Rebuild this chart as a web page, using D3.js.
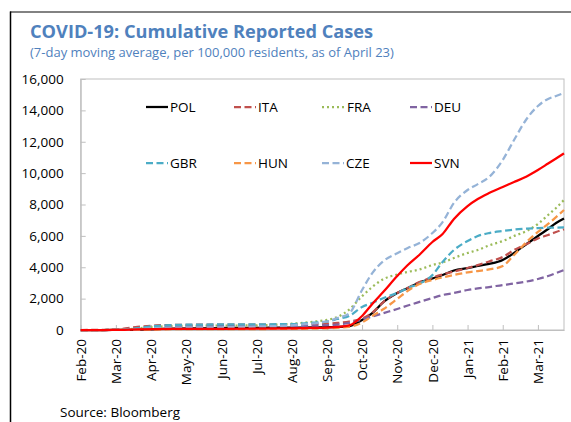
<!DOCTYPE html>
<html>
<head>
<meta charset="utf-8">
<script src="https://cdn.jsdelivr.net/npm/d3@7"></script>
<style>
  html, body { margin: 0; padding: 0; background: #fff; }
  svg { display: block; font-family: "Open Sans", "Noto Sans", sans-serif; }
</style>
</head>
<body>
<svg id="chart" width="571" height="422"></svg>
<script>
// ---------- data ----------
const monthLabels = ["Feb-20","Mar-20","Apr-20","May-20","Jun-20","Jul-20","Aug-20",
                     "Sep-20","Oct-20","Nov-20","Dec-20","Jan-21","Feb-21","Mar-21"];
const yTicks = [0, 2000, 4000, 6000, 8000, 10000, 12000, 14000, 16000];

const dates = ["2020-02-01","2020-02-20","2020-03-05","2020-03-20","2020-04-05","2020-04-20",
               "2020-05-10","2020-06-01","2020-07-01","2020-08-01","2020-08-20",
               "2020-09-01","2020-09-10","2020-09-20","2020-10-01","2020-10-10","2020-10-20",
               "2020-11-01","2020-11-10","2020-11-20","2020-12-01","2020-12-10","2020-12-20",
               "2021-01-01","2021-01-10","2021-01-20","2021-02-01","2021-02-10","2021-02-20",
               "2021-03-01","2021-03-10","2021-03-17","2021-03-24"];

const POL = [0,0,2,20,60,90,110,125,140,150,170, 180,200,250,640,1080,1790,2360,2680,3030,3280,3510,3790,3950,4080,4210,4460,4910,5480,5990,6440,6820,7110];
const ITA = [0,5,60,200,290,320,335,340,345,350,380, 400,450,540,720,1100,1800,2360,2680,3060,3350,3540,3730,3950,4140,4370,4650,5100,5480,5830,6060,6250,6420];
const FRA = [0,0,15,100,200,250,270,280,300,400,530, 640,830,1300,2150,2740,3250,3540,3700,3860,4140,4300,4590,4910,5100,5390,5670,5990,6310,6760,7330,7780,8290];
const DEU = [0,0,10,80,180,220,235,240,245,260,280, 300,340,450,670,860,1080,1340,1560,1790,2040,2230,2360,2550,2650,2740,2870,2960,3090,3250,3440,3630,3825];
const GBR = [0,0,20,120,260,320,345,355,360,380,470, 540,700,890,1470,1720,2040,2360,2680,2960,3500,4340,5100,5670,5990,6180,6310,6400,6460,6500,6520,6530,6540];
const HUN = [0,0,1,10,30,50,55,58,62,70,90, 110,140,200,480,890,1340,1980,2490,2930,3190,3350,3510,3670,3760,3860,4080,4780,5610,6250,6760,7200,7650];
const CZE = [0,0,5,50,120,150,165,175,220,300,420, 540,765,1050,2550,3630,4400,4900,5230,5550,6180,6880,8100,8925,9300,9750,10840,12110,13450,14280,14730,14920,15110];
const SVN = [0,0,5,40,60,70,75,78,90,110,130, 150,200,290,890,1660,2450,3440,4140,4800,5610,6120,7080,7900,8350,8730,9120,9430,9790,10200,10610,10930,11260];

const seriesNames = ["POL","ITA","FRA","DEU","GBR","HUN","CZE","SVN"];
const seriesValues = [POL, ITA, FRA, DEU, GBR, HUN, CZE, SVN];
const seriesColors = ["#000000","#c0504d","#9bbb59","#8064a2","#4bacc6","#f79646","#95b3d7","#ff0000"];
const seriesDash = [null,"7,3.5","2,3","7,3.5","7,3.5","7,3.5","7,3.5",null];

// ---------- helpers ----------
function monthIndex(s) {
  const [y, m, d] = s.split("-").map(Number);
  const dim = new Date(y, m, 0).getDate();
  return (y - 2020) * 12 + (m - 2) + (d - 1) / dim;
}

// ---------- layout ----------
const svg = d3.select("#chart");
const L = 80.7, R = 564, T = 79, B = 330;
const x = d3.scaleLinear().domain([0, monthIndex(dates[dates.length - 1])]).range([L, R]);
const y = d3.scaleLinear().domain([0, 16000]).range([B, T]);

// frame
svg.append("line").attr("x1", 10).attr("x2", 571).attr("y1", 12).attr("y2", 12)
  .attr("stroke", "#595959").attr("stroke-width", 1.5);
svg.append("line").attr("x1", 10.5).attr("x2", 10.5).attr("y1", 11.5).attr("y2", 422)
  .attr("stroke", "#000").attr("stroke-width", 1.5);

// titles
svg.append("text").attr("x", 30).attr("y", 37.5)
  .attr("font-size", 18.2).attr("font-weight", 700).attr("fill", "#4f81bd")
  .text("COVID-19: Cumulative Reported Cases");
svg.append("text").attr("x", 30).attr("y", 56.5)
  .attr("font-size", 13).attr("fill", "#4f81bd")
  .text("(7-day moving average, per 100,000 residents, as of April 23)");

// plot border
svg.append("rect").attr("x", L).attr("y", T).attr("width", R - L).attr("height", B - T)
  .attr("fill", "none").attr("stroke", "#bfbfbf").attr("stroke-width", 1);

// y axis
const yAxis = svg.append("g").attr("transform", `translate(${L},0)`)
  .call(d3.axisLeft(y).tickValues(yTicks).tickFormat(d3.format(",")).tickSizeInner(-5).tickSizeOuter(0).tickPadding(17));
yAxis.select(".domain").attr("stroke", "#bfbfbf");
yAxis.selectAll(".tick line").attr("stroke", "#bfbfbf");
yAxis.selectAll(".tick text").attr("font-size", 13.5).attr("fill", "#000")
  .attr("font-family", "'Open Sans', sans-serif");

// x axis
const xAxis = svg.append("g").attr("transform", `translate(0,${B})`)
  .call(d3.axisBottom(x).tickValues(d3.range(monthLabels.length)).tickFormat(i => monthLabels[i])
    .tickSizeInner(-5).tickSizeOuter(0));
xAxis.select(".domain").attr("stroke", "#bfbfbf");
xAxis.selectAll(".tick line").attr("stroke", "#bfbfbf");
xAxis.selectAll(".tick text")
  .attr("font-size", 13.5).attr("fill", "#000").attr("font-family", "'Open Sans', sans-serif")
  .attr("text-anchor", "end").attr("transform", "rotate(-90)")
  .attr("x", -9).attr("y", 0).attr("dy", "0.35em");

// lines
const line = d3.line().curve(d3.curveMonotoneX)
  .x((d, i) => x(monthIndex(dates[i]))).y(d => y(d));
seriesNames.forEach((name, k) => {
  svg.append("path").datum(seriesValues[k])
    .attr("d", line).attr("fill", "none")
    .attr("stroke", seriesColors[k]).attr("stroke-width", 2.25)
    .attr("stroke-dasharray", seriesDash[k])
    .attr("stroke-linejoin", "round");
});

// legend
const legX = [146, 234, 322, 410];
const legY = [107, 163];
seriesNames.forEach((name, k) => {
  const cx = legX[k % 4], cy = legY[Math.floor(k / 4)];
  const g = svg.append("g").attr("transform", `translate(${cx},${cy})`);
  g.append("line").attr("x1", 0).attr("x2", 22).attr("y1", 0).attr("y2", 0)
    .attr("stroke", seriesColors[k]).attr("stroke-width", 2.25)
    .attr("stroke-dasharray", seriesDash[k]);
  g.append("text").attr("x", k === 2 ? 25 : 24).attr("y", 0).attr("dy", "0.35em")
    .attr("font-size", 13.5).attr("fill", "#000").text(name);
});

// source
svg.append("text").attr("x", 60).attr("y", 417)
  .attr("font-size", 13.5).attr("fill", "#000").text("Source: Bloomberg");
</script>
</body>
</html>
